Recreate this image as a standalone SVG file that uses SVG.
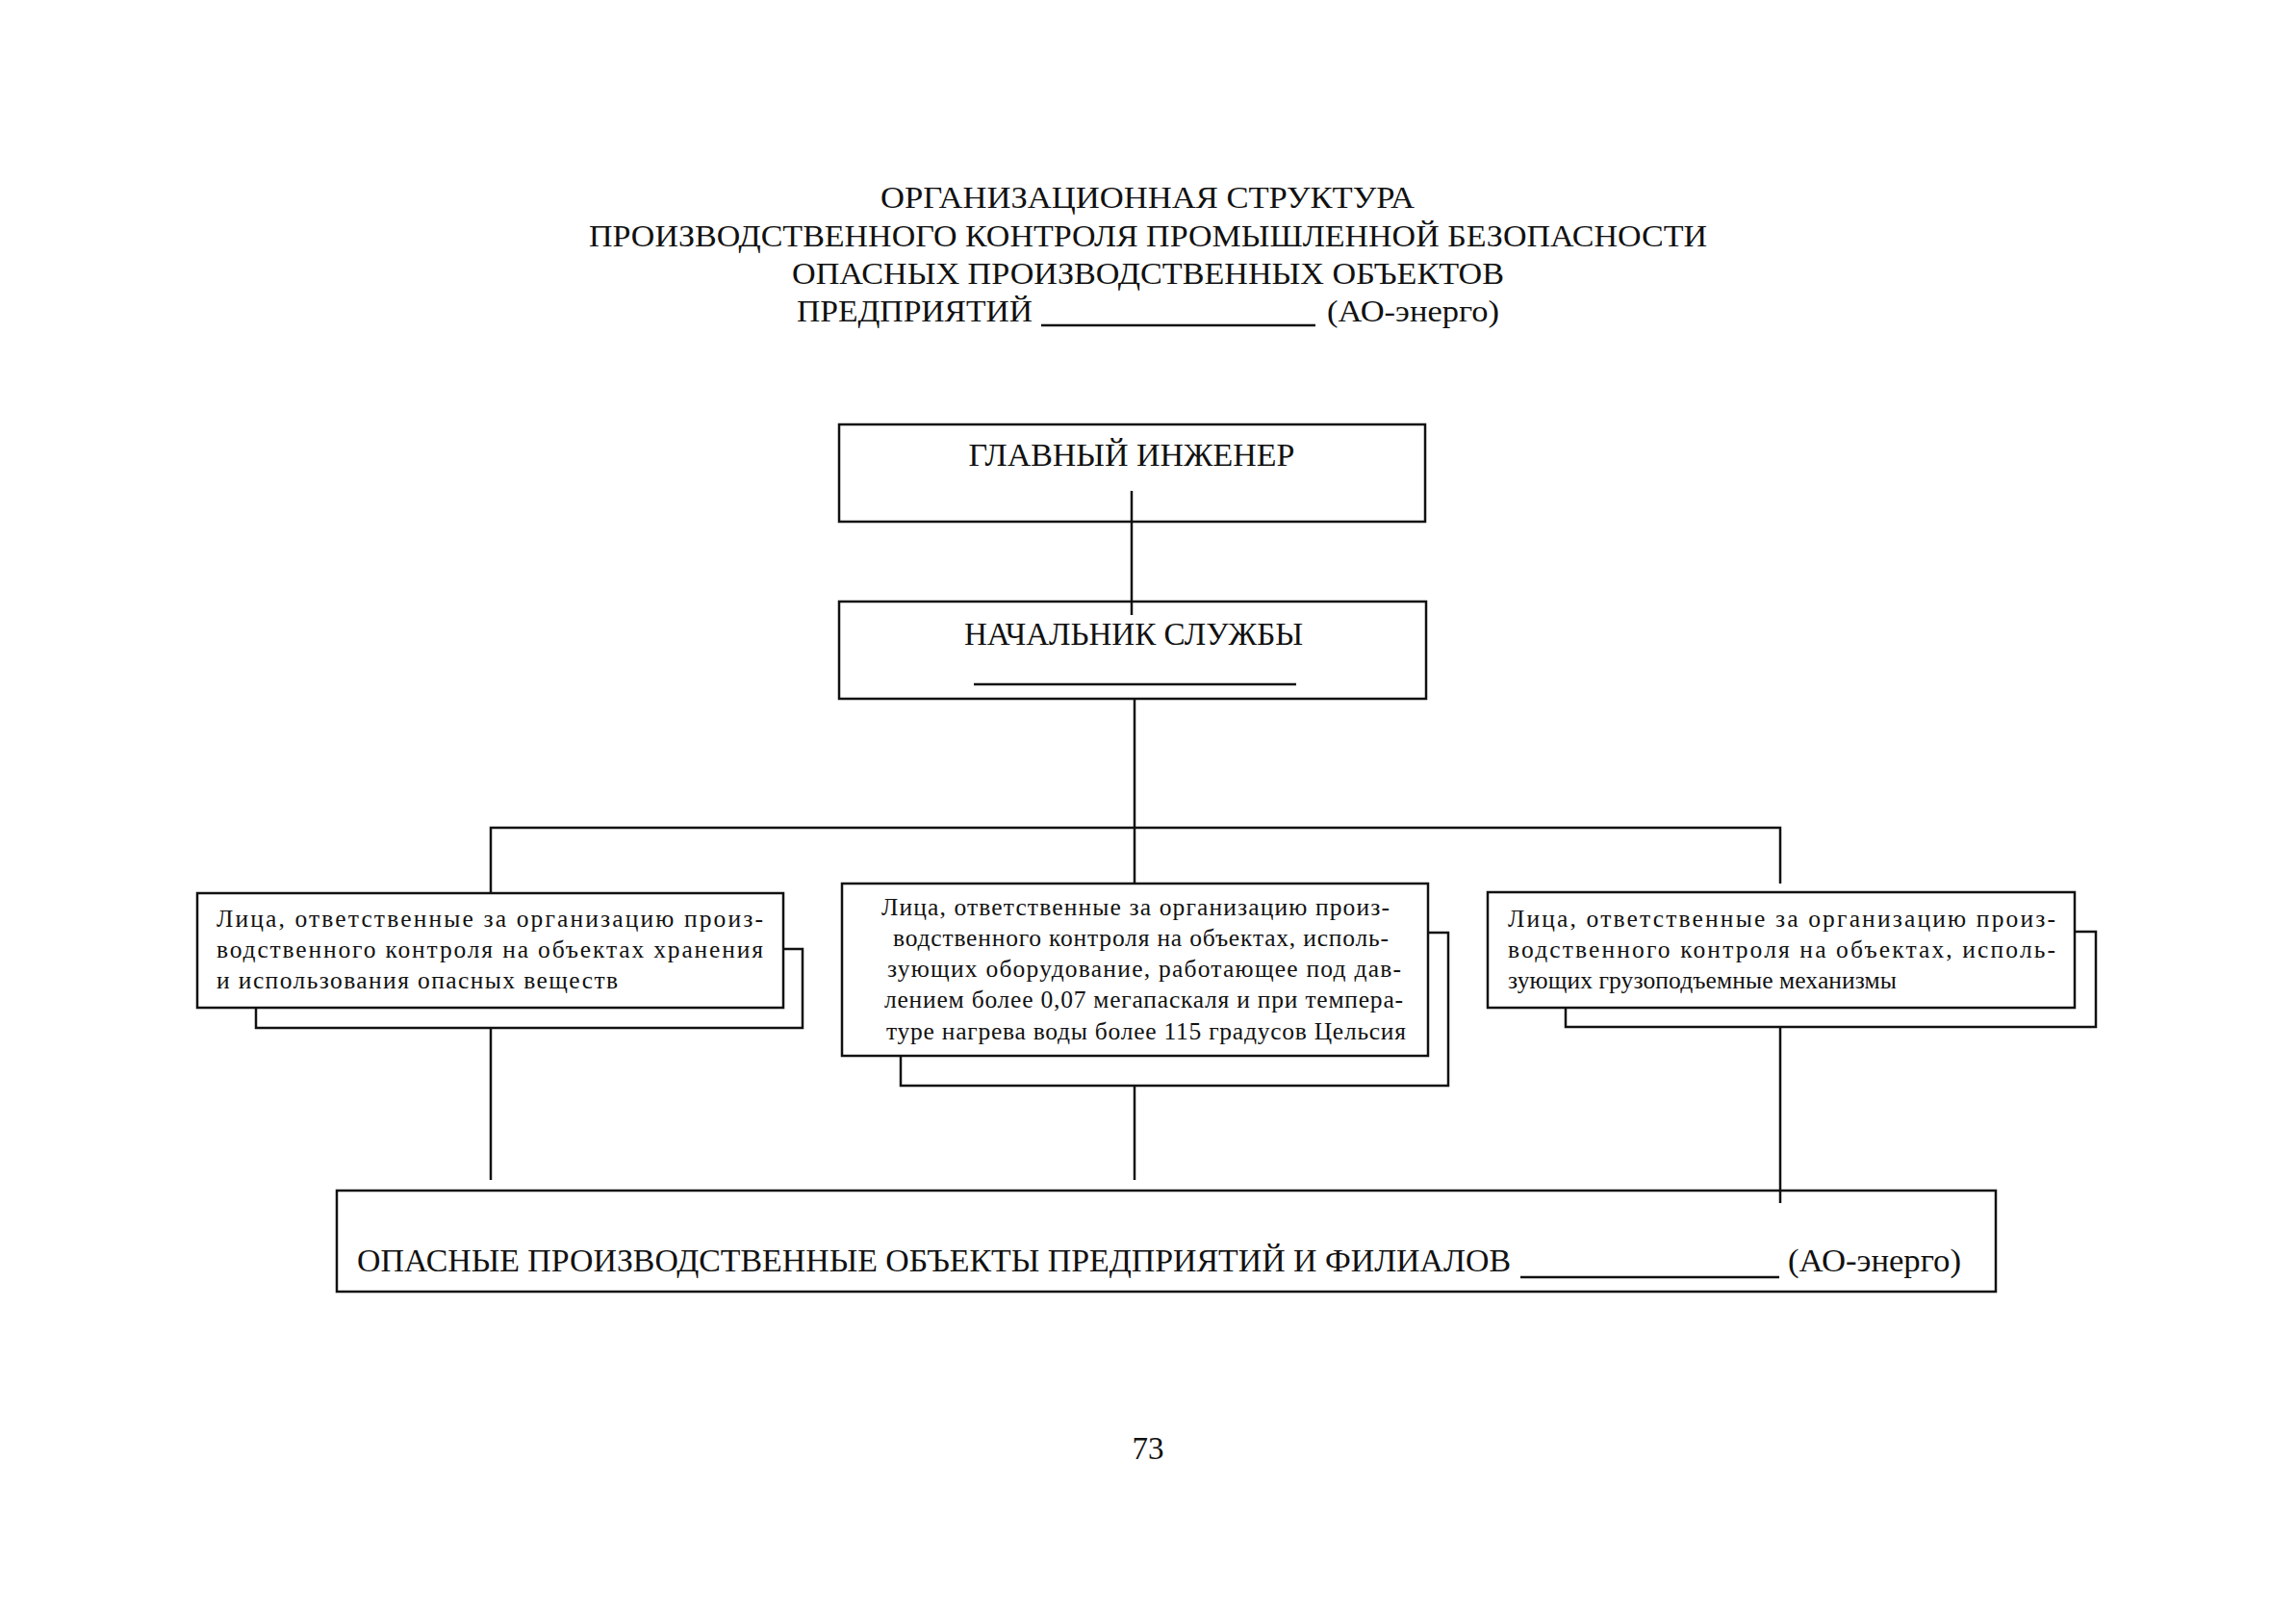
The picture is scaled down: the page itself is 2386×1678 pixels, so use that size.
<svg xmlns="http://www.w3.org/2000/svg" width="2386" height="1678" viewBox="0 0 2386 1678">
<style>
text{font-family:"Liberation Serif","Times New Roman",serif;fill:#111}
.t{font-size:32px}
.h{font-size:33px}
.s{font-size:25.5px}
.box{fill:#fff;stroke:#111;stroke-width:2.5}
.ln{fill:none;stroke:#111;stroke-width:2.5}
</style>
<rect width="2386" height="1678" fill="#fff"/>
<g id="title">
<text class="t" x="915" y="216" textLength="555" lengthAdjust="spacingAndGlyphs">ОРГАНИЗАЦИОННАЯ СТРУКТУРА</text>
<text class="t" x="612" y="256" textLength="1162" lengthAdjust="spacingAndGlyphs">ПРОИЗВОДСТВЕННОГО КОНТРОЛЯ ПРОМЫШЛЕННОЙ БЕЗОПАСНОСТИ</text>
<text class="t" x="823" y="295" textLength="740" lengthAdjust="spacingAndGlyphs">ОПАСНЫХ ПРОИЗВОДСТВЕННЫХ ОБЪЕКТОВ</text>
<text class="t" x="828" y="334" textLength="245" lengthAdjust="spacingAndGlyphs">ПРЕДПРИЯТИЙ</text>
<line class="ln" x1="1082" y1="338" x2="1367" y2="338"/>
<text class="t" x="1379" y="334" textLength="179" lengthAdjust="spacingAndGlyphs">(АО-энерго)</text>
</g>
<g id="connectors">
<line class="ln" x1="1176" y1="510" x2="1176" y2="639"/>
<line class="ln" x1="1179" y1="726" x2="1179" y2="918"/>
<polyline class="ln" points="510,928 510,860 1850,860 1850,918"/>
<line class="ln" x1="510" y1="1068" x2="510" y2="1226"/>
<line class="ln" x1="1179" y1="1128" x2="1179" y2="1226"/>
<line class="ln" x1="1850" y1="1067" x2="1850" y2="1250"/>
</g>
<g id="n-chief-engineer">
<rect class="box" x="872" y="441" width="609" height="101"/>
<text class="h" x="1176" y="484" text-anchor="middle" textLength="339" lengthAdjust="spacingAndGlyphs">ГЛАВНЫЙ ИНЖЕНЕР</text>
</g>
<line class="ln" x1="1176" y1="510" x2="1176" y2="542"/>
<g id="n-head-service">
<rect class="box" x="872" y="625" width="610" height="101"/>
<line class="ln" x1="1176" y1="625" x2="1176" y2="639"/>
<text class="h" x="1178" y="670" text-anchor="middle" textLength="352" lengthAdjust="spacingAndGlyphs">НАЧАЛЬНИК СЛУЖБЫ</text>
<line class="ln" x1="1012" y1="711" x2="1347" y2="711" stroke-width="2"/>
</g>
<g id="n-left">
<rect class="box" x="266" y="986" width="568" height="82"/>
<rect class="box" x="205" y="928" width="609" height="119"/>
<text class="s" x="225" y="963" textLength="568" lengthAdjust="spacing">Лица, ответственные за организацию произ-</text>
<text class="s" x="225" y="995" textLength="568" lengthAdjust="spacing">водственного контроля на объектах хранения</text>
<text class="s" x="225" y="1027" textLength="417" lengthAdjust="spacing">и использования опасных веществ</text>
</g>
<g id="n-middle">
<rect class="box" x="936" y="969" width="569" height="159"/>
<rect class="box" x="875" y="918" width="609" height="179"/>
<text class="s" x="916" y="951" textLength="528" lengthAdjust="spacing">Лица, ответственные за организацию произ-</text>
<text class="s" x="928" y="983" textLength="515" lengthAdjust="spacing">водственного контроля на объектах, исполь-</text>
<text class="s" x="922" y="1015" textLength="534" lengthAdjust="spacing">зующих оборудование, работающее под дав-</text>
<text class="s" x="919" y="1047" textLength="539" lengthAdjust="spacing">лением более 0,07 мегапаскаля и при темпера-</text>
<text class="s" x="921" y="1080" textLength="540" lengthAdjust="spacing">туре нагрева воды более 115 градусов Цельсия</text>
</g>
<g id="n-right">
<rect class="box" x="1627" y="968" width="551" height="99"/>
<rect class="box" x="1546" y="927" width="610" height="120"/>
<text class="s" x="1567" y="963" textLength="569" lengthAdjust="spacing">Лица, ответственные за организацию произ-</text>
<text class="s" x="1567" y="995" textLength="569" lengthAdjust="spacing">водственного контроля на объектах, исполь-</text>
<text class="s" x="1567" y="1027" textLength="404" lengthAdjust="spacing">зующих грузоподъемные механизмы</text>
</g>
<g id="n-objects">
<rect class="box" x="350" y="1237" width="1724" height="105" style="fill:none"/>
<text class="h" x="371" y="1321" textLength="1199" lengthAdjust="spacingAndGlyphs">ОПАСНЫЕ ПРОИЗВОДСТВЕННЫЕ ОБЪЕКТЫ ПРЕДПРИЯТИЙ И ФИЛИАЛОВ</text>
<line class="ln" x1="1580" y1="1327" x2="1849" y2="1327" stroke-width="2"/>
<text class="h" x="1858" y="1321" textLength="180" lengthAdjust="spacingAndGlyphs">(АО-энерго)</text>
</g>
<g id="page-number">
<text class="h" x="1193" y="1516" text-anchor="middle" font-size="30">73</text>
</g>
</svg>
